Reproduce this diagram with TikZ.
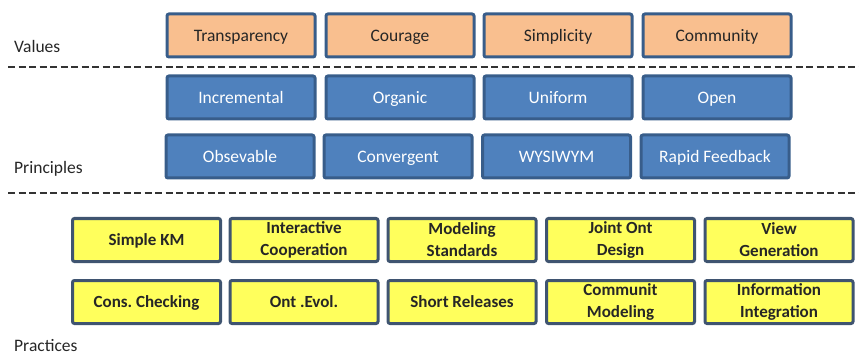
\documentclass[tikz,border=0pt]{standalone}
\usepackage{fontspec}
\setmainfont{Carlito}
\frenchspacing
\definecolor{peach}{HTML}{F9BF8F}
\definecolor{bluefill}{HTML}{4F81BD}
\definecolor{blueline}{HTML}{385D8A}
\definecolor{yelfill}{HTML}{FFFF5C}
\definecolor{yelline}{HTML}{3F5470}
\definecolor{txt}{HTML}{262626}
\begin{document}
\begin{tikzpicture}[x=1pt,y=-1pt,
  box/.style={draw=blueline,line width=3pt,rounded corners=2pt,minimum width=148pt,minimum height=43pt,inner sep=0pt,font=\fontsize{17.5}{21}\selectfont},
  onel/.style={text height=14pt,text depth=2.7pt},
  valbox/.style={box,onel,fill=peach,text=txt},
  pribox/.style={box,onel,fill=bluefill,text=white},
  pracbox/.style={box,draw=yelline,fill=yelfill,text=txt,font=\fontsize{17}{22}\selectfont\bfseries,align=center},
  lbl/.style={anchor=west,text=txt,font=\fontsize{17.5}{21}\selectfont,inner sep=0pt},
  sep/.style={dash pattern=on 7pt off 3.5pt,line width=1.4pt,draw=black!80}]
\useasboundingbox (0,0) rectangle (859,358);
% labels
\node[lbl] (lv) at (14,46) {Values};
\node[lbl] (lp) at (14,169) {Principles};
\node[lbl] (lpr) at (14,346) {Practices};
% separators
\coordinate (s1a) at (8,67); \coordinate (s1b) at (859,67);
\coordinate (s2a) at (8,193); \coordinate (s2b) at (859,193);
\draw[sep] (s1a) -- (s1b);
\draw[sep] (s2a) -- (s2b);
% values
\node[valbox] (v1) at (241,35.5) {Transparency};
\node[valbox] (v2) at (400,35.5) {Courage};
\node[valbox] (v3) at (558,35.5) {Simplicity};
\node[valbox] (v4) at (717,35.5) {Community};
% principles
\node[pribox] (p1) at (241,97.5) {Incremental};
\node[pribox] (p2) at (400,97.5) {Organic};
\node[pribox] (p3) at (558,97.5) {Uniform};
\node[pribox] (p4) at (717,97.5) {Open};
\node[pribox] (p5) at (240,156.5) {Obsevable};
\node[pribox] (p6) at (398,156.5) {Convergent};
\node[pribox] (p7) at (556.5,156.5) {WYSIWYM};
\node[pribox] (p8) at (715,156.5) {Rapid Feedback};
% practices
\node[pracbox,onel] (r1) at (146.5,240) {Simple KM};
\node[pracbox] (r2) at (304,240) {Interactive\\Cooperation};
\node[pracbox] (r3) at (462,240) {Modeling\\Standards};
\node[pracbox] (r4) at (620.5,240) {Joint Ont\\Design};
\node[pracbox] (r5) at (779,240) {View\\Generation};
\node[pracbox,onel] (r6) at (146.5,302) {Cons. Checking};
\node[pracbox,onel] (r7) at (304,302) {Ont .Evol.};
\node[pracbox,onel] (r8) at (462,302) {Short Releases};
\node[pracbox] (r9) at (620.5,302) {Communit\\Modeling};
\node[pracbox] (r10) at (779,302) {Information\\Integration};
\end{tikzpicture}
\end{document}
